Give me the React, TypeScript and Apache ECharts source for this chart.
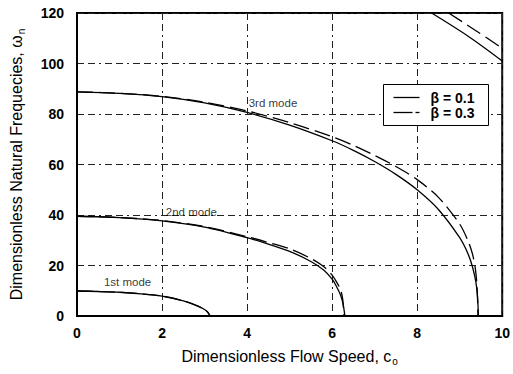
import React, { useEffect, useRef } from "react";
import * as echarts from "echarts";

// ---- data ----
const speed1 = [0, 0.5, 1, 1.5, 2, 2.5, 2.8, 3.0, 3.08, 3.13];
const mode1B01 = [9.9, 9.7, 9.4, 8.8, 7.9, 6.0, 4.2, 2.6, 1.4, 0];
const mode1B03 = [9.9, 9.7, 9.4, 8.8, 7.9, 6.0, 4.2, 2.6, 1.4, 0];

const speed2 = [0, 1, 2, 3, 4, 4.5, 5, 5.5, 5.8, 6.0, 6.1, 6.2, 6.26, 6.3];
const mode2B01 = [39.5, 39.0, 37.7, 35.2, 31.0, 28.5, 25.6, 21.6, 18.2, 14.6, 11.8, 8.2, 4.5, 0];
const speed2B03 = [0, 1, 2, 3, 4, 4.5, 5, 5.5, 5.8, 6.0, 6.1, 6.2, 6.25, 6.28];
const mode2B03 = [39.5, 39.0, 37.8, 35.4, 31.4, 29.1, 26.6, 22.8, 19.6, 16.2, 13.6, 10.4, 6.5, 0];

const speed3 = [0, 1, 2, 3, 4, 5, 6, 6.5, 7, 7.5, 8, 8.5, 9, 9.2, 9.3, 9.38, 9.42, 9.44];
const mode3B01 = [88.8, 88.2, 86.9, 84.4, 80.6, 75.6, 69.4, 65.6, 61.2, 56.1, 50.0, 42.2, 31.0, 24.5, 19.5, 13.5, 7.5, 0];
const speed3B03 = [0, 1, 2, 3, 4, 5, 6, 6.5, 7, 7.5, 8, 8.5, 9, 9.2, 9.3, 9.37, 9.41, 9.43];
const mode3B03 = [88.8, 88.2, 87.0, 84.7, 81.2, 76.6, 71.0, 67.6, 63.6, 59.2, 54.0, 47.0, 36.4, 29.6, 24.6, 18.5, 11.0, 0];

const speed4B01 = [8.34, 9.2, 10];
const mode4B01 = [120, 110.8, 101];
const speed4B03 = [8.74, 9.4, 10];
const mode4B03 = [120, 112.8, 106];

const modeLabels = ["1st mode", "2nd mode", "3rd mode"];
const modeLabelX = [1.19, 2.69, 4.61];
const modeLabelY = [13.5, 41.3, 84.5];

const legendNames = ["β = 0.1", "β = 0.3"];

const FONT = "'Liberation Sans', Arial, Helvetica, sans-serif";
const DASH = [16, 6];

function zip(xs: number[], ys: number[]) {
  return xs.map((x, i) => [x, ys[i]]);
}

export default function App() {
  const ref = useRef<HTMLDivElement>(null);
  useEffect(() => {
    if (!ref.current) return;
    const chart = echarts.init(ref.current, undefined, { renderer: "svg" });
    const solid = { color: "#000", width: 1.3, type: "solid" as const };
    const dashed = { color: "#000", width: 1.3, type: DASH as any };
    const mk = (name: string, data: number[][], ls: any) => ({
      name,
      type: "line",
      data,
      showSymbol: false,
      symbol: "none",
      smooth: 0.3,
      lineStyle: ls,
      itemStyle: { color: "#000" },
      silent: true,
      clip: true,
    });
    const rich = {
      a: { fontSize: 16, color: "#000", fontFamily: FONT, lineHeight: 20, verticalAlign: "middle" },
      s: { fontSize: 10, color: "#000", fontFamily: FONT, lineHeight: 20, verticalAlign: "bottom", padding: [0, 0, 0, 1] },
    };
    const legendText = (t: string, y: number) => ({
      type: "text",
      x: 47,
      y,
      z: 101,
      style: { text: t, fill: "#000", font: "bold 14px " + FONT, verticalAlign: "middle" },
    });
    chart.setOption({
      animation: false,
      backgroundColor: "#fff",
      textStyle: { fontFamily: FONT },
      grid: {
        left: 77,
        right: 8,
        top: 13,
        bottom: 58,
        show: true,
        borderColor: "#000",
        borderWidth: 2,
        containLabel: false,
      },
      xAxis: {
        type: "value",
        min: 0,
        max: 10,
        interval: 2,
        name: "{a|Dimensionless Flow Speed, c}{s|o}",
        nameLocation: "middle",
        nameGap: 30,
        nameTextStyle: { color: "#000", fontFamily: FONT, fontSize: 16, rich },
        axisLine: { lineStyle: { color: "#000", width: 2 } },
        axisTick: { show: false },
        axisLabel: { color: "#000", fontSize: 14, fontWeight: "bold", margin: 10, fontFamily: FONT },
        splitLine: { show: true, lineStyle: { color: "#222", width: 1, type: [7, 4, 7, 4, 2, 4] } },
      },
      yAxis: {
        type: "value",
        min: 0,
        max: 120,
        interval: 20,
        name: "{a|Dimensionless Natural Frequecies, ω}{s|n}",
        nameLocation: "middle",
        nameGap: 51,
        nameTextStyle: { color: "#000", fontFamily: FONT, fontSize: 16, rich },
        axisLine: { lineStyle: { color: "#000", width: 2 } },
        axisTick: { show: false },
        axisLabel: { color: "#000", fontSize: 14, fontWeight: "bold", margin: 13, fontFamily: FONT },
        splitLine: { show: true, lineStyle: { color: "#222", width: 1, type: [7, 4, 7, 4, 2, 4] } },
      },
      graphic: [
        {
          type: "group",
          left: 383,
          top: 84,
          z: 100,
          children: [
            { type: "rect", z: 100, shape: { x: 0, y: 0, width: 105, height: 41 }, style: { fill: "#fff", stroke: "#000", lineWidth: 1 } },
            { type: "line", z: 101, shape: { x1: 10, y1: 13, x2: 36, y2: 13 }, style: { stroke: "#000", lineWidth: 1.3 } },
            { type: "line", z: 101, shape: { x1: 10, y1: 28, x2: 29, y2: 28 }, style: { stroke: "#000", lineWidth: 1.3 } },
            { type: "line", z: 101, shape: { x1: 32, y1: 28, x2: 36, y2: 28 }, style: { stroke: "#000", lineWidth: 1.3 } },
            legendText(legendNames[0], 13),
            legendText(legendNames[1], 28),
          ],
        },
      ],
      series: [
        mk(legendNames[0], zip(speed1, mode1B01), solid),
        mk(legendNames[0], zip(speed2, mode2B01), solid),
        mk(legendNames[0], zip(speed3, mode3B01), solid),
        mk(legendNames[0], zip(speed4B01, mode4B01), solid),
        mk(legendNames[1], zip(speed1, mode1B03), dashed),
        mk(legendNames[1], zip(speed2B03, mode2B03), dashed),
        mk(legendNames[1], zip(speed3B03, mode3B03), dashed),
        mk(legendNames[1], zip(speed4B03, mode4B03), dashed),
        {
          name: "labels",
          type: "scatter",
          symbolSize: 0,
          silent: true,
          data: modeLabels.map((t, i) => [modeLabelX[i], modeLabelY[i], t]),
          label: {
            show: true,
            position: "inside",
            formatter: (p: any) => p.data[2],
            color: "#000",
            fontSize: 11.5,
            fontFamily: FONT,
            textBorderWidth: 0,
          },
        },
      ],
    });
    return () => chart.dispose();
  }, []);
  return <div ref={ref} style={{ width: 513, height: 374, position: "absolute", left: 0, top: 0 }} />;
}
